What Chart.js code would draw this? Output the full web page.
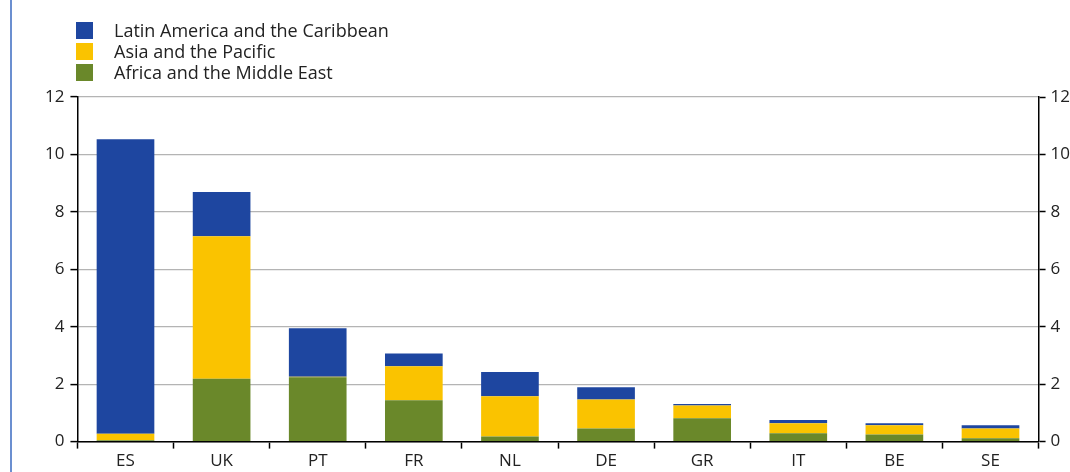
<!DOCTYPE html>
<html>
<head>
<meta charset="utf-8">
<script src="https://cdn.jsdelivr.net/npm/chart.js@4/dist/chart.umd.min.js"></script>
<style>
  html, body { margin: 0; padding: 0; background: #fff; }
  #wrap { position: relative; width: 1070px; height: 472px; overflow: hidden; }
  #rule { position: absolute; left: 10px; top: 0; width: 2px; height: 472px; background: #6b8fd0; }
  #legend { position: absolute; left: 76px; top: 20px; font-family: "Open Sans", sans-serif; font-size: 18px; color: #222; }
  .item { height: 21px; line-height: 21px; position: relative; }
  .box { position: absolute; left: 0; top: 2px; width: 17px; height: 17px; }
  .lbl { position: absolute; left: 38px; top: 0; white-space: nowrap; }
  canvas { position: absolute; left: 0; top: 0; }
</style>
</head>
<body>
<div id="wrap">
  <div id="rule"></div>
  <canvas id="chart" width="1070" height="472"></canvas>
  <div id="legend"></div>
</div>
<script>
// countries on the x axis
const countries = ['ES', 'UK', 'PT', 'FR', 'NL', 'DE', 'GR', 'IT', 'BE', 'SE'];

// stacked segments
const africaMiddleEast = [0.05, 2.19, 2.24, 1.44, 0.18, 0.46, 0.81, 0.29, 0.25, 0.12];
const asiaPacific      = [0.22, 4.96, 0.02, 1.18, 1.40, 1.01, 0.45, 0.35, 0.32, 0.34];
const latinAmerica     = [10.26, 1.54, 1.69, 0.45, 0.84, 0.42, 0.05, 0.11, 0.07, 0.11];

const yTicks = [0, 2, 4, 6, 8, 10, 12];

const BLUE = '#1e46a0', YELLOW = '#fac300', GREEN = '#6a882a';

const datasets = [
  { label: 'Africa and the Middle East', data: africaMiddleEast, backgroundColor: GREEN },
  { label: 'Asia and the Pacific', data: asiaPacific, backgroundColor: YELLOW },
  { label: 'Latin America and the Caribbean', data: latinAmerica, backgroundColor: BLUE }
];

// legend is drawn top -> bottom in reverse stacking order
const legendEl = document.getElementById('legend');
datasets.slice().reverse().forEach(d => {
  const row = document.createElement('div');
  row.className = 'item';
  row.innerHTML = '<span class="box" style="background:' + d.backgroundColor + '"></span><span class="lbl">' + d.label + '</span>';
  legendEl.appendChild(row);
});

const tickFont = { family: '"Open Sans", sans-serif', size: 17 };

new Chart(document.getElementById('chart'), {
  type: 'bar',
  data: { labels: countries, datasets: datasets },
  options: {
    responsive: false,
    animation: false,
    layout: { padding: { top: 97, left: 39, right: -5, bottom: -1 } },
    plugins: { legend: { display: false }, tooltip: { enabled: false } },
    datasets: { bar: { barPercentage: 0.6, categoryPercentage: 1.0 } },
    scales: {
      x: {
        stacked: true,
        border: { color: '#000', width: 1.5 },
        grid: { offset: true, drawOnChartArea: false, tickLength: 7, tickColor: '#000', tickWidth: 1.5 },
        ticks: { color: '#222', font: tickFont, padding: 2 }
      },
      y: {
        stacked: true,
        position: 'left',
        min: 0, max: 12,
        afterBuildTicks: s => { s.ticks = yTicks.map(v => ({ value: v })); },
        border: { color: '#000', width: 1.5 },
        grid: { color: '#b4b4b4', lineWidth: 1.2, tickLength: 7, tickColor: '#000', tickWidth: 1.5 },
        ticks: { color: '#222', font: tickFont, padding: 6 }
      },
      y2: {
        position: 'right',
        min: 0, max: 12,
        afterBuildTicks: s => { s.ticks = yTicks.map(v => ({ value: v })); },
        border: { color: '#000', width: 1.5 },
        grid: { drawOnChartArea: false, tickLength: 7, tickColor: '#000', tickWidth: 1.5 },
        ticks: { color: '#222', font: tickFont, padding: 5 }
      }
    }
  }
});
</script>
</body>
</html>
